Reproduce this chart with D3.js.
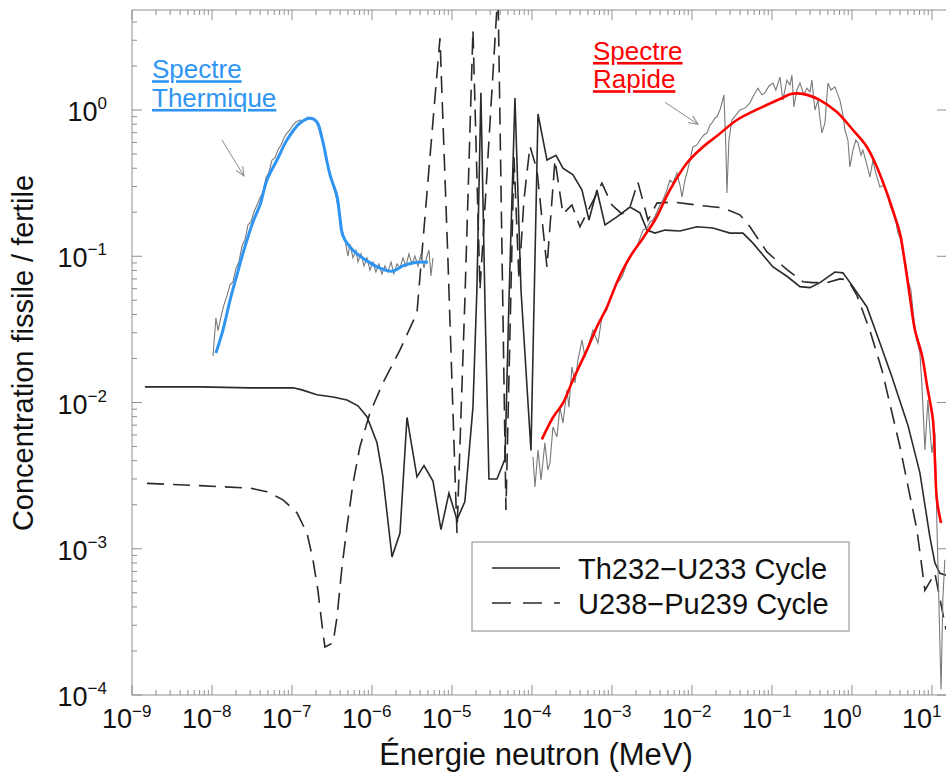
<!DOCTYPE html>
<html><head><meta charset="utf-8">
<script src="https://cdn.jsdelivr.net/npm/d3@7"></script>
<style>html,body{margin:0;padding:0;background:#fff}svg{display:block;font-family:"Liberation Sans",Arial,Helvetica,sans-serif}</style>
</head><body><svg id="chart" width="946" height="776"></svg>
<script>
// ---------- DATA ----------
// Th232-U233 cycle (solid)
const thEnergy = [1.45e-9,7.08e-9,2.99e-8,1.03e-7,1.33e-7,2.05e-7,3.26e-7,4.87e-7,6.68e-7,8.66e-7,1.155e-6,1.37e-6,1.78e-6,2.24e-6,2.74e-6,3.65e-6,4.47e-6,5.79e-6,7.29e-6,9.17e-6,1.155e-5,1.45e-5,1.83e-5,2.05e-5,2.3e-5,2.58e-5,2.9e-5,3.65e-5,4.6e-5,5.16e-5,6.13e-5,7.29e-5,9.72e-5,1.19e-4,1.54e-4,2.0e-4,2.44e-4,3.26e-4,4.22e-4,5.16e-4,6.49e-4,8.18e-4,1.155e-3,1.68e-3,2.24e-3,2.74e-3,3.45e-3,4.6e-3,7.08e-3,1.155e-2,1.83e-2,2.99e-2,4.34e-2,5.79e-2,0.103,0.154,0.224,0.299,0.398,0.613,0.772,1.03,1.54,2.24,3.16,5.01,7.08,9.44,10.9,12.6,15];
const thValue = [0.0128,0.0128,0.0126,0.0126,0.0122,0.0113,0.0109,0.0104,0.0095,0.008,0.0053,0.0031,0.00088,0.00128,0.0079,0.0031,0.0037,0.0029,0.00135,0.0024,0.00158,0.0021,0.0093,0.059,1.31,0.05,0.003,0.003,0.0041,0.05,1.21,0.059,0.0047,0.94,0.455,0.49,0.40,0.36,0.284,0.177,0.284,0.164,0.186,0.217,0.198,0.151,0.144,0.151,0.149,0.159,0.156,0.144,0.144,0.123,0.0845,0.073,0.062,0.061,0.066,0.078,0.077,0.062,0.045,0.0255,0.015,0.007,0.0033,0.0012,0.0008,0.00068,0.00066];
// U238-Pu239 cycle (dashed)
const puEnergy = [1.54e-9,7.08e-9,2.99e-8,4.87e-8,7.72e-8,1.155e-7,1.54e-7,1.83e-7,2.11e-7,2.44e-7,2.58e-7,3.26e-7,3.65e-7,4.22e-7,4.87e-7,5.79e-7,7.08e-7,9.44e-7,1.37e-6,2.24e-6,3.65e-6,5.31e-6,7.08e-6,8.91e-6,1.155e-5,1.45e-5,1.83e-5,2.24e-5,3.76e-5,4.73e-5,5.96e-5,6.88e-5,7.94e-5,9.44e-5,1.155e-4,1.54e-4,1.94e-4,2.44e-4,3.16e-4,3.98e-4,7.5e-4,1e-3,1.33e-3,1.68e-3,2.11e-3,2.82e-3,3.65e-3,5.79e-3,1.155e-2,2.44e-2,3.98e-2,5.31e-2,8.66e-2,0.154,0.244,0.326,0.487,0.708,0.891,1.155,1.68,2.37,3.98,6.49,8.18,10.9,15];
const puValue = [0.0028,0.0027,0.0026,0.00245,0.00216,0.00176,0.00128,0.00084,0.00052,0.000266,0.000213,0.000227,0.00034,0.00075,0.00141,0.0028,0.005,0.0085,0.0136,0.0229,0.041,0.477,3.1,0.094,0.00128,0.05,3.52,0.059,6.6,0.00184,0.477,0.069,0.243,0.567,0.389,0.0845,0.455,0.195,0.224,0.159,0.316,0.224,0.195,0.217,0.322,0.177,0.231,0.235,0.224,0.214,0.192,0.159,0.107,0.081,0.067,0.066,0.066,0.07,0.069,0.054,0.031,0.0167,0.005,0.00135,0.00052,0.00068,0.00028];
// Thermal spectrum (raw, grey)
const thermEnergy = [1.03e-8,1.12e-8,1.19e-8,1.3e-8,1.41e-8,1.54e-8,1.68e-8,1.83e-8,2.0e-8,2.17e-8,2.37e-8,2.58e-8,2.82e-8,3.07e-8,3.35e-8,3.65e-8,3.98e-8,4.34e-8,4.73e-8,5.16e-8,5.62e-8,6.13e-8,6.68e-8,7.29e-8,7.94e-8,8.66e-8,9.44e-8,1.03e-7,1.12e-7,1.26e-7,1.41e-7,1.58e-7,1.78e-7,1.94e-7,2.11e-7,2.3e-7,2.51e-7,2.74e-7,2.99e-7,3.26e-7,3.55e-7,3.87e-7,4.22e-7,4.6e-7,5.01e-7,5.31e-7,5.79e-7,6.31e-7,6.68e-7,7.29e-7,7.94e-7,8.66e-7,9.44e-7,1.03e-6,1.12e-6,1.22e-6,1.33e-6,1.45e-6,1.58e-6,1.73e-6,1.88e-6,2.05e-6,2.24e-6,2.44e-6,2.66e-6,2.9e-6,3.16e-6,3.45e-6,3.76e-6,4.1e-6,4.47e-6,4.87e-6,5.16e-6,5.46e-6,5.79e-6];
const thermValue = [0.0208,0.038,0.031,0.039,0.0465,0.0536,0.0637,0.0667,0.0832,0.0914,0.1175,0.129,0.164,0.1716,0.201,0.224,0.25,0.275,0.343,0.377,0.455,0.47,0.533,0.577,0.644,0.697,0.73,0.79,0.828,0.855,0.841,0.896,0.868,0.855,0.778,0.664,0.567,0.441,0.365,0.303,0.258,0.198,0.151,0.129,0.1,0.121,0.0974,0.11,0.0914,0.104,0.0859,0.0974,0.0805,0.0914,0.0781,0.0886,0.0757,0.0859,0.0781,0.0914,0.0757,0.0886,0.0832,0.0974,0.0859,0.104,0.0886,0.1,0.0859,0.104,0.0832,0.1,0.11,0.0733,0.0974];
// Thermal spectrum (smoothed, blue)
const thermSmoothEnergy = [1.12e-8,1.37e-8,1.68e-8,2.05e-8,2.44e-8,3.26e-8,3.98e-8,4.87e-8,6.49e-8,8.66e-8,1.26e-7,1.68e-7,2.05e-7,2.37e-7,2.99e-7,3.65e-7,3.98e-7,4.34e-7,5.79e-7,8.66e-7,1.26e-6,1.78e-6,2.44e-6,3.65e-6,5.01e-6];
const thermSmoothValue = [0.0218,0.0313,0.05,0.0745,0.105,0.172,0.224,0.332,0.455,0.624,0.815,0.88,0.83,0.644,0.36,0.258,0.183,0.138,0.11,0.093,0.083,0.079,0.086,0.091,0.091];
// Fast spectrum (raw, grey)
const fastEnergy = [1.03e-4,1.09e-4,1.19e-4,1.3e-4,1.45e-4,1.58e-4,1.68e-4,1.83e-4,2.05e-4,2.24e-4,2.44e-4,2.74e-4,2.9e-4,3.16e-4,3.45e-4,3.76e-4,4.22e-4,4.6e-4,5.01e-4,5.79e-4,6.68e-4,7.5e-4,8.66e-4,9.44e-4,1.03e-3,1.155e-3,1.26e-3,1.37e-3,1.54e-3,1.68e-3,1.88e-3,2.05e-3,2.24e-3,2.44e-3,2.74e-3,2.99e-3,3.26e-3,3.65e-3,3.98e-3,4.34e-3,4.87e-3,5.31e-3,5.79e-3,6.49e-3,7.08e-3,7.5e-3,8.18e-3,8.66e-3,9.44e-3,1.03e-2,1.155e-2,1.26e-2,1.41e-2,1.54e-2,1.68e-2,1.78e-2,1.94e-2,2.05e-2,2.24e-2,2.37e-2,2.51e-2,2.66e-2,2.74e-2,2.9e-2,3.16e-2,3.55e-2,3.98e-2,4.6e-2,5.31e-2,5.96e-2,6.68e-2,7.5e-2,8.18e-2,9.17e-2,0.103,0.112,0.126,0.137,0.154,0.168,0.178,0.188,0.205,0.224,0.251,0.274,0.299,0.316,0.345,0.376,0.398,0.422,0.46,0.501,0.546,0.613,0.668,0.708,0.772,0.818,0.891,0.944,1.03,1.12,1.19,1.3,1.37,1.54,1.68,1.83,1.94,2.11,2.24,2.51,2.74,2.99,3.26,3.55,3.76,4.1,4.34,4.73,5.01,5.46,5.96,6.49,7.08,7.5,8.18,8.91,9.44,10,10.9,11.55,12.2,13.0,13.7,14.5];
const fastValue = [0.00425,0.00265,0.00474,0.00296,0.0053,0.00346,0.00387,0.0068,0.00582,0.0093,0.00724,0.0122,0.0093,0.0175,0.0136,0.0195,0.0268,0.0205,0.024,0.0313,0.0255,0.0385,0.043,0.0519,0.0561,0.0657,0.0689,0.0745,0.0914,0.0989,0.11,0.116,0.133,0.151,0.156,0.1716,0.177,0.201,0.224,0.243,0.284,0.332,0.317,0.371,0.307,0.254,0.332,0.371,0.455,0.559,0.577,0.624,0.675,0.697,0.79,0.815,0.882,0.896,1.0,1.12,1.27,0.533,0.271,0.624,0.854,0.924,1.0,1.03,1.12,1.27,1.41,1.27,1.31,1.46,1.53,1.37,1.68,1.17,1.6,1.48,1.73,1.05,1.37,1.53,1.27,1.41,1.33,1.6,1.0,1.17,0.882,0.697,0.815,1.53,1.37,1.44,1.27,1.17,0.924,0.73,0.624,0.408,0.533,0.624,0.595,0.492,0.533,0.421,0.348,0.455,0.389,0.332,0.298,0.307,0.271,0.224,0.198,0.1716,0.144,0.129,0.105,0.0873,0.0689,0.0589,0.0367,0.0268,0.0218,0.0132,0.00474,0.0104,0.0065,0.00453,0.0062,0.00146,0.000448,0.000109,0.000448,0.00084];
// Fast spectrum (smoothed, red)
const fastSmoothEnergy = [1.33e-4,1.83e-4,2.44e-4,3.26e-4,4.87e-4,6.49e-4,8.66e-4,1.19e-3,1.68e-3,2.44e-3,3.45e-3,5.31e-3,8.66e-3,1.37e-2,2.05e-2,3.65e-2,7.08e-2,0.126,0.178,0.244,0.398,0.649,1.03,1.54,2.05,2.74,3.45,3.98,4.6,5.31,6.13,7.5,8.66,10.3,10.9,11.55,13.0];
const fastSmoothValue = [0.0056,0.0079,0.0099,0.0143,0.0229,0.0329,0.045,0.0689,0.0989,0.133,0.177,0.284,0.434,0.559,0.664,0.855,1.03,1.19,1.29,1.29,1.17,0.969,0.73,0.559,0.408,0.271,0.186,0.144,0.09,0.0527,0.0313,0.0211,0.0132,0.0076,0.00405,0.00216,0.0015];
// Ticks / labels
const xTickExponents = [-9,-8,-7,-6,-5,-4,-3,-2,-1,0,1];
const yTickExponents = [-4,-3,-2,-1,0];
const legendLabels = ["Th232\u2212U233 Cycle","U238\u2212Pu239 Cycle"];
const xTitle = "\u00c9nergie neutron (MeV)";
const yTitle = "Concentration fissile / fertile";
const annotations = [
  {lines:["Spectre","Thermique"], color:"#2f95f2", E:1.78e-9, V:[1.65,1.05], arrow:[[1.33e-8,0.624],[2.51e-8,0.354]]},
  {lines:["Spectre","Rapide"], color:"#ff0000", E:5.79e-4, V:[2.2,1.41], arrow:[[4.6e-3,1.13],[1.19e-2,0.80]]}
];

// ---------- CHART ----------
const svg = d3.select("#chart");
const L=132, R=946, T=10, B=695;
const x = d3.scaleLog().domain([1e-9,15]).range([L,R]);
const y = d3.scaleLog().domain([1e-4,4.83]).range([B,T]);
const axisColor = "#8f8f8f";

svg.append("defs").append("clipPath").attr("id","clip")
  .append("rect").attr("x",L).attr("y",T).attr("width",R-L).attr("height",B-T);
const defs = svg.select("defs");
defs.append("marker").attr("id","arr").attr("viewBox","0 0 10 10").attr("refX",9).attr("refY",5)
  .attr("markerWidth",10).attr("markerHeight",10).attr("markerUnits","userSpaceOnUse").attr("orient","auto")
  .append("path").attr("d","M0,1 L9,5 L0,9").attr("fill","none").attr("stroke","#8a8a8a").attr("stroke-width",1);

// minor tick values
const xMinor=[], yMinor=[];
for(let e=-9;e<=1;e++) for(let m=1;m<=9;m++){const v=m*Math.pow(10,e); if(v>=1e-9&&v<=15) xMinor.push(v);}
for(let e=-4;e<=0;e++) for(let m=1;m<=9;m++){const v=m*Math.pow(10,e); if(v>=1e-4&&v<=4.83) yMinor.push(v);}
const isMajor = v => Math.abs(Math.log10(v)-Math.round(Math.log10(v)))<1e-9;

// frame lines
const g = svg.append("g");
g.append("line").attr("x1",L).attr("x2",R+2).attr("y1",B).attr("y2",B).attr("stroke",axisColor);
g.append("line").attr("x1",L).attr("x2",R+2).attr("y1",T).attr("y2",T).attr("stroke",axisColor);
g.append("line").attr("x1",L).attr("x2",L).attr("y1",T).attr("y2",B).attr("stroke",axisColor);

// x ticks bottom & top
g.selectAll(".xtb").data(xMinor).join("line").attr("class","xtb")
  .attr("x1",d=>x(d)).attr("x2",d=>x(d)).attr("y1",B).attr("y2",d=>B-(isMajor(d)?10:5)).attr("stroke",axisColor);
g.selectAll(".xtt").data(xMinor).join("line").attr("class","xtt")
  .attr("x1",d=>x(d)).attr("x2",d=>x(d)).attr("y1",T).attr("y2",d=>T+(isMajor(d)?10:5)).attr("stroke",axisColor);
// y ticks left & right
g.selectAll(".ytl").data(yMinor).join("line").attr("class","ytl")
  .attr("y1",d=>y(d)).attr("y2",d=>y(d)).attr("x1",L).attr("x2",d=>L+(isMajor(d)?10:5)).attr("stroke",axisColor);
g.selectAll(".ytr").data(yTickExponents).join("line").attr("class","ytr")
  .attr("y1",d=>y(Math.pow(10,d))).attr("y2",d=>y(Math.pow(10,d))).attr("x1",R+2).attr("x2",R-9).attr("stroke",axisColor);

const fmtExp = e => e<0 ? "\u2212"+(-e) : String(e);
// x tick labels
const xl = svg.append("g").selectAll("text").data(xTickExponents).join("text")
  .attr("x",d=>x(Math.pow(10,d))-30).attr("y",728).attr("font-size",27).attr("fill","#111");
xl.append("tspan").text("10");
xl.append("tspan").attr("dy",-11).attr("font-size",17).text(d=>fmtExp(d));
// y tick labels
const yl = svg.append("g").selectAll("text").data(yTickExponents).join("text")
  .attr("x",107).attr("y",d=>y(Math.pow(10,d))+11).attr("font-size",27).attr("text-anchor","end").attr("fill","#111");
yl.append("tspan").text("10");
yl.append("tspan").attr("dy",-12).attr("font-size",17).text(d=>fmtExp(d));

// titles
svg.append("text").attr("x",536).attr("y",765).attr("text-anchor","middle").attr("font-size",31).attr("fill","#111").text(xTitle);
svg.append("text").attr("transform","translate(33,353) rotate(-90)").attr("text-anchor","middle").attr("font-size",29).attr("fill","#111").text(yTitle);

// curves
const plot = svg.append("g").attr("clip-path","url(#clip)");
const zipData = (E,V) => E.map((e,i)=>[e,V[i]]);
const lin = d3.line().x(d=>x(d[0])).y(d=>y(d[1]));
const smooth = d3.line().x(d=>x(d[0])).y(d=>y(d[1])).curve(d3.curveCatmullRom.alpha(0.5));

plot.append("path").datum(zipData(puEnergy,puValue)).attr("d",lin).attr("fill","none")
  .attr("stroke","#2a2a2a").attr("stroke-width",1.6).attr("stroke-dasharray","17,9");
plot.append("path").datum(zipData(thEnergy,thValue)).attr("d",lin).attr("fill","none")
  .attr("stroke","#2a2a2a").attr("stroke-width",1.6);
plot.append("path").datum(zipData(thermEnergy,thermValue)).attr("d",lin).attr("fill","none")
  .attr("stroke","#7a7a7a").attr("stroke-width",1.1);
plot.append("path").datum(zipData(fastEnergy,fastValue)).attr("d",lin).attr("fill","none")
  .attr("stroke","#7a7a7a").attr("stroke-width",1.1);
plot.append("path").datum(zipData(thermSmoothEnergy,thermSmoothValue)).attr("d",smooth).attr("fill","none")
  .attr("stroke","#2f95f2").attr("stroke-width",3);
plot.append("path").datum(zipData(fastSmoothEnergy,fastSmoothValue)).attr("d",smooth).attr("fill","none")
  .attr("stroke","#ff0000").attr("stroke-width",2.6);

// annotations
annotations.forEach(a=>{
  a.lines.forEach((t,i)=>{
    svg.append("text").attr("x",x(a.E)).attr("y",y(a.V[i])).attr("font-size",26)
      .attr("fill",a.color).style("text-decoration","underline").text(t);
  });
  svg.append("line").attr("x1",x(a.arrow[0][0])).attr("y1",y(a.arrow[0][1]))
    .attr("x2",x(a.arrow[1][0])).attr("y2",y(a.arrow[1][1]))
    .attr("stroke","#8a8a8a").attr("stroke-width",1).attr("marker-end","url(#arr)");
});

// legend
const lg = svg.append("g");
lg.append("rect").attr("x",472).attr("y",542).attr("width",377).attr("height",89)
  .attr("fill","#fff").attr("stroke","#9a9a9a").attr("stroke-width",1.2);
legendLabels.forEach((t,i)=>{
  const yy = 568+i*35;
  lg.append("line").attr("x1",492).attr("x2",560).attr("y1",yy).attr("y2",yy)
    .attr("stroke","#2a2a2a").attr("stroke-width",1.6).attr("stroke-dasharray",i?"19,12":null);
  lg.append("text").attr("x",578).attr("y",yy+11).attr("font-size",29).attr("fill","#111").text(t);
});
</script></body></html>
